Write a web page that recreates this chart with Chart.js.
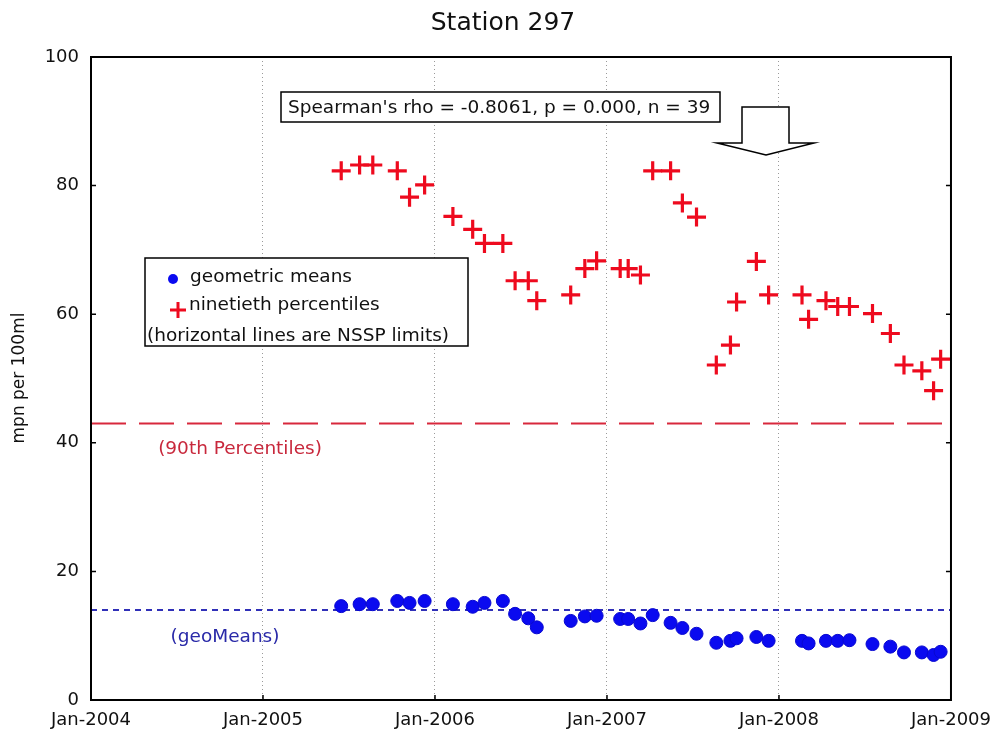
<!DOCTYPE html>
<html>
<head>
<meta charset="utf-8">
<script src="https://cdn.jsdelivr.net/npm/chart.js@4/dist/chart.umd.min.js"></script>
<style>
  html, body { margin: 0; padding: 0; background: #fff; }
  canvas { display: block; }
</style>
</head>
<body>
<canvas id="stationChart" width="1001" height="740"></canvas>
<script>
const chartTitle = "Station 297";
const yAxisTitle = "mpn per 100ml";
const statsText = "Spearman's rho = -0.8061, p = 0.000, n = 39";

const sampleDates = [
  "2005-06-16", "2005-07-25", "2005-08-22", "2005-10-13", "2005-11-08", "2005-12-10",
  "2006-02-08", "2006-03-22", "2006-04-16", "2006-05-25", "2006-06-20", "2006-07-18",
  "2006-08-05", "2006-10-16", "2006-11-15", "2006-12-10",
  "2007-01-29", "2007-02-15", "2007-03-13", "2007-04-08", "2007-05-16", "2007-06-10",
  "2007-07-10", "2007-08-21", "2007-09-20", "2007-10-03", "2007-11-14", "2007-12-10",
  "2008-02-19", "2008-03-04", "2008-04-10", "2008-05-05", "2008-05-30", "2008-07-18",
  "2008-08-25", "2008-09-23", "2008-10-31", "2008-11-25", "2008-12-10",
];

const geoMeans = [
  14.6, 14.9, 14.9, 15.4, 15.1, 15.4,
  14.9, 14.5, 15.1, 15.4, 13.4, 12.7, 11.3, 12.3, 13.0, 13.1,
  12.6, 12.6, 11.9, 13.2, 12.0, 11.2, 10.3, 8.9, 9.2, 9.6, 9.8, 9.2,
  9.2, 8.8, 9.2, 9.2, 9.3, 8.7, 8.3, 7.4, 7.4, 7.0, 7.5,
];

const ninetieth = [
  82.3, 83.2, 83.2, 82.3, 78.2, 80.1,
  75.2, 73.2, 71.0, 71.0, 65.2, 65.2, 62.1, 63.0, 67.1, 68.3,
  67.1, 67.1, 66.1, 82.3, 82.3, 77.3, 75.1, 52.1, 55.2, 61.9, 68.2, 63.0,
  63.0, 59.2, 62.1, 61.2, 61.2, 60.1, 57.0, 52.1, 51.2, 48.1, 53.0,
];

const geoMeanLimit = 14;
const percentileLimit = 43;
const xYears = [2004, 2009];
const yRange = [0, 100];

const seriesLabels = ["geometric means", "ninetieth percentiles"];
const legendNote = "(horizontal lines are NSSP limits)";
const limitLabels = ["(90th Percentiles)", "(geoMeans)"];

const FONT = "'DejaVu Sans', Verdana, sans-serif";

// date string -> fractional year, so a linear axis can be used (no date adapter)
function toYear(d) {
  const [y, m, day] = d.split("-").map(Number);
  const start = Date.UTC(y, 0, 1);
  const end = Date.UTC(y + 1, 0, 1);
  return y + (Date.UTC(y, m - 1, day) - start) / (end - start);
}

const xs = sampleDates.map(toYear);
const geoPoints = xs.map((x, i) => ({ x: x, y: geoMeans[i] }));
const p90Points = xs.map((x, i) => ({ x: x, y: ninetieth[i] }));

const decorPlugin = {
  id: "decor",
  afterDraw(chart) {
    const { ctx, chartArea: { top, bottom, left, right }, scales: { x, y } } = chart;
    ctx.save();

    // frame
    ctx.strokeStyle = "#000";
    ctx.lineWidth = 2;
    ctx.strokeRect(left, top, right - left, bottom - top);

    // inner tick marks
    ctx.lineWidth = 1.5;
    ctx.beginPath();
    for (let v = 20; v < 100; v += 20) {
      const py = y.getPixelForValue(v);
      ctx.moveTo(left, py); ctx.lineTo(left + 5, py);
      ctx.moveTo(right, py); ctx.lineTo(right - 5, py);
    }
    for (let yr = 2005; yr < 2009; yr++) {
      const px = x.getPixelForValue(yr);
      ctx.moveTo(px, bottom); ctx.lineTo(px, bottom - 5);
    }
    ctx.stroke();

    // title
    ctx.fillStyle = "#111";
    ctx.textAlign = "center";
    ctx.textBaseline = "middle";
    ctx.font = "25px " + FONT;
    ctx.fillText(chartTitle, 503, 23);

    // y axis title
    ctx.save();
    ctx.translate(20, 378);
    ctx.rotate(-Math.PI / 2);
    ctx.font = "17px " + FONT;
    ctx.fillText(yAxisTitle, 0, 0);
    ctx.restore();

    // spearman box
    ctx.fillStyle = "#fff";
    ctx.fillRect(281, 92, 439, 30);
    ctx.strokeStyle = "#000";
    ctx.lineWidth = 1.5;
    ctx.strokeRect(281, 92, 439, 30);
    ctx.fillStyle = "#111";
    ctx.textAlign = "left";
    ctx.font = "18.5px " + FONT;
    ctx.fillText(statsText, 288, 108);

    // down arrow
    ctx.beginPath();
    ctx.moveTo(742, 107);
    ctx.lineTo(789, 107);
    ctx.lineTo(789, 143);
    ctx.lineTo(814, 143);
    ctx.lineTo(766, 155);
    ctx.lineTo(717, 143);
    ctx.lineTo(742, 143);
    ctx.closePath();
    ctx.fillStyle = "#fff";
    ctx.fill();
    ctx.lineWidth = 1.5;
    ctx.stroke();

    // legend box
    ctx.fillStyle = "#fff";
    ctx.fillRect(145, 258, 323, 88);
    ctx.strokeRect(145, 258, 323, 88);
    ctx.fillStyle = "#0a0af0";
    ctx.beginPath();
    ctx.arc(173, 279, 5, 0, Math.PI * 2);
    ctx.fill();
    ctx.strokeStyle = "#ee0a1e";
    ctx.lineWidth = 3;
    ctx.beginPath();
    ctx.moveTo(170, 310); ctx.lineTo(186, 310);
    ctx.moveTo(178, 302); ctx.lineTo(178, 318);
    ctx.stroke();
    ctx.fillStyle = "#111";
    ctx.font = "18.5px " + FONT;
    ctx.fillText(seriesLabels[0], 190, 277);
    ctx.fillText(seriesLabels[1], 189, 305);
    ctx.fillText(legendNote, 147, 336);

    // limit line labels
    ctx.textAlign = "center";
    ctx.fillStyle = "#c8283c";
    ctx.fillText(limitLabels[0], 240, 449);
    ctx.fillStyle = "#2a2aa8";
    ctx.fillText(limitLabels[1], 225, 637);

    ctx.restore();
  },
};

new Chart(document.getElementById("stationChart"), {
  data: {
    datasets: [
      {
        type: "scatter",
        label: seriesLabels[0],
        data: geoPoints,
        pointStyle: "circle",
        pointRadius: 6.5,
        backgroundColor: "#0a0af0",
        borderColor: "#0808d0",
        borderWidth: 1,
      },
      {
        type: "scatter",
        label: seriesLabels[1],
        data: p90Points,
        pointStyle: "cross",
        pointRadius: 9.5,
        borderColor: "#ee0a1e",
        borderWidth: 3.2,
      },
      {
        type: "line",
        label: "90th limit",
        data: xYears.map((x) => ({ x: x, y: percentileLimit })),
        borderColor: "#d8283c",
        borderWidth: 2,
        borderDash: [35, 13],
        pointRadius: 0,
      },
      {
        type: "line",
        label: "geomean limit",
        data: xYears.map((x) => ({ x: x, y: geoMeanLimit })),
        borderColor: "#3030b8",
        borderWidth: 2,
        borderDash: [6, 5],
        pointRadius: 0,
      },
    ],
  },
  options: {
    responsive: false,
    animation: false,
    layout: { padding: { left: 0, top: 57, right: 48, bottom: 0 } },
    scales: {
      x: {
        type: "linear",
        min: xYears[0],
        max: xYears[1],
        afterFit(scale) { scale.height = 40; },
        ticks: {
          stepSize: 1,
          padding: 10,
          color: "#111",
          font: { family: FONT, size: 18 },
          callback: (v) => "Jan-" + v,
        },
        grid: {
          color: "#9a9a9a",
          lineWidth: 1,
          drawTicks: false,
        },
        border: { display: false, dash: [1, 3] },
      },
      y: {
        min: yRange[0],
        max: yRange[1],
        afterFit(scale) { scale.width = 91; },
        ticks: {
          stepSize: 20,
          padding: 12,
          color: "#111",
          font: { family: FONT, size: 18 },
        },
        grid: { display: false, drawTicks: false },
        border: { display: false },
      },
    },
    plugins: {
      legend: { display: false },
      tooltip: { enabled: false },
    },
  },
  plugins: [decorPlugin],
});
</script>
</body>
</html>
